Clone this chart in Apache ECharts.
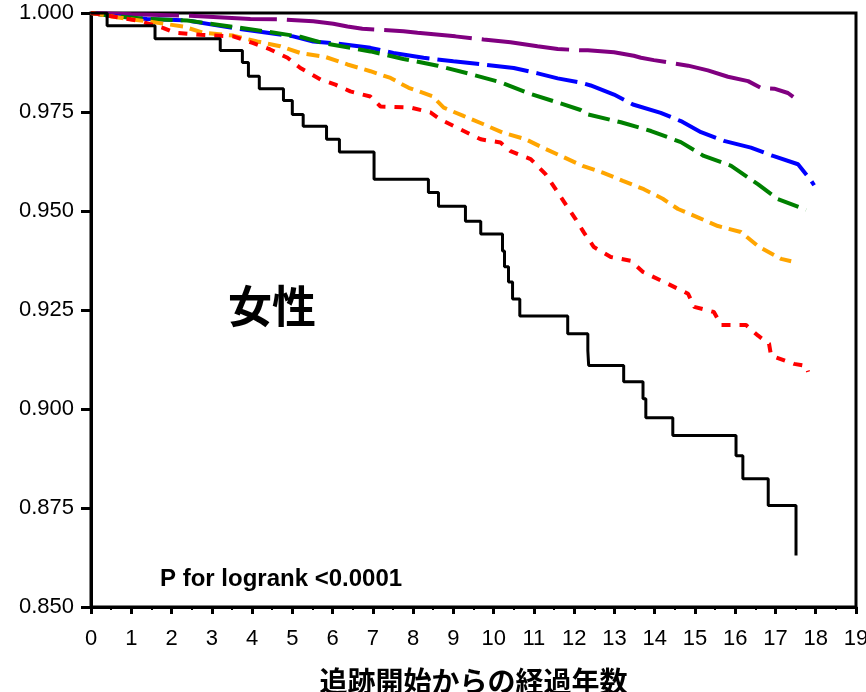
<!DOCTYPE html>
<html>
<head>
<meta charset="utf-8">
<script src="https://cdn.jsdelivr.net/npm/echarts@6/dist/echarts.min.js"></script>
<style>
html,body{margin:0;padding:0;background:#fff;}
#chart{width:866px;height:692px;}
</style>
</head>
<body>
<div id="chart"></div>
<script>
// X axis ticks (years since start of follow-up)
var xTicks = [0,1,2,3,4,5,6,7,8,9,10,11,12,13,14,15,16,17,18,19];
// Y axis tick labels
var yTicks = [0.850,0.875,0.900,0.925,0.950,0.975,1.000];

// Survival curves: [time (years), survival]
var purpleCurve = [[0,1.0],[1.0,0.9997],[2.46,0.9993],[3.96,0.9985],[4.7,0.9984],[5.52,0.9979],[6.02,0.9973],[6.37,0.9966],[6.74,0.9960],[7.76,0.9954],[8.11,0.9950],[9.05,0.9941],[9.75,0.9933],[10.42,0.9926],[11.09,0.9916],[11.59,0.9909],[12.16,0.9906],[12.34,0.9906],[12.99,0.9901],[13.48,0.9892],[13.66,0.9887],[13.98,0.9881],[14.83,0.9867],[15.32,0.9855],[15.82,0.9839],[16.32,0.9828],[16.64,0.9811],[16.97,0.9809],[17.31,0.9798],[17.44,0.9788]];
var blueCurve = [[0,1.0],[0.47,0.9993],[1.39,0.9985],[2.39,0.9981],[3.53,0.9962],[4.38,0.9950],[5.02,0.9941],[5.52,0.9928],[6.12,0.9923],[6.94,0.9912],[7.51,0.9899],[8.26,0.9887],[9.0,0.9878],[9.75,0.9870],[10.5,0.9861],[11.12,0.9847],[11.59,0.9835],[12.16,0.9824],[12.41,0.9817],[12.99,0.9794],[13.46,0.9769],[14.15,0.9748],[14.65,0.9727],[15.15,0.9699],[15.72,0.9677],[16.39,0.9660],[16.94,0.9639],[17.56,0.9618],[17.89,0.9576],[17.96,0.9565]];
var greenCurve = [[0,1.0],[0.47,0.9993],[1.39,0.9985],[2.39,0.9981],[3.53,0.9965],[4.38,0.9953],[5.2,0.9940],[5.77,0.9924],[6.94,0.9903],[7.76,0.9884],[8.61,0.9867],[9.38,0.9847],[10.17,0.9825],[10.85,0.9798],[11.62,0.9773],[12.16,0.9755],[12.34,0.9744],[13.16,0.9724],[13.91,0.9702],[14.65,0.9674],[15.22,0.9639],[15.9,0.9614],[16.57,0.9567],[17.06,0.9530],[17.76,0.9503]];
var orangeCurve = [[0,1.0],[0.9,0.9985],[1.39,0.9979],[2.29,0.9966],[2.79,0.9950],[3.53,0.9943],[4.13,0.9928],[4.7,0.9916],[5.2,0.9899],[5.82,0.9889],[6.37,0.9870],[6.94,0.9853],[7.44,0.9836],[7.89,0.9811],[8.48,0.9790],[8.76,0.9761],[9.25,0.9740],[9.75,0.9719],[10.22,0.9698],[10.8,0.9681],[11.22,0.9660],[11.67,0.9639],[12.21,0.9614],[12.71,0.9597],[13.21,0.9576],[13.73,0.9555],[14.2,0.9531],[14.58,0.9505],[15.07,0.9484],[15.57,0.9462],[16.14,0.9447],[16.57,0.9411],[17.14,0.9379],[17.39,0.9373]];
var redCurve = [[0,1.0],[0.5,0.9992],[1.2,0.9980],[1.8,0.9962],[2.09,0.9950],[2.71,0.9945],[3.53,0.9941],[4.03,0.9924],[4.45,0.9908],[4.88,0.9887],[5.2,0.9861],[5.7,0.9832],[6.07,0.9819],[6.44,0.9802],[6.94,0.9789],[7.19,0.9764],[7.94,0.9761],[8.43,0.9749],[8.68,0.9731],[9.18,0.9706],[9.68,0.9681],[10.17,0.9673],[10.42,0.9651],[10.92,0.9631],[11.29,0.9593],[11.54,0.9555],[11.79,0.9517],[12.04,0.9479],[12.24,0.9446],[12.49,0.9409],[12.91,0.9384],[13.41,0.9374],[13.71,0.9346],[14.33,0.9316],[14.83,0.9291],[14.98,0.9258],[15.47,0.9245],[15.65,0.9212],[16.27,0.9212],[16.57,0.9185],[16.84,0.9165],[16.89,0.9135],[17.46,0.9114],[17.76,0.9109],[17.81,0.9094]];
// Black curve: step points [event time, survival after event]
var blackCurve = [[0,1.0],[0.40,0.9968],[1.59,0.9935],[3.21,0.9905],[3.76,0.9875],[3.91,0.9840],[4.18,0.9809],[4.78,0.9779],[5.00,0.9744],[5.27,0.9714],[5.85,0.9681],[6.17,0.9649],[7.03,0.9580],[8.38,0.9547],[8.63,0.9512],[9.30,0.9474],[9.68,0.9442],[10.22,0.9399],[10.27,0.9359],[10.37,0.9321],[10.47,0.9278],[10.65,0.9235],[11.84,0.9190],[12.34,0.9147],[12.36,0.9110],[13.23,0.9069],[13.71,0.9026],[13.78,0.8978],[14.45,0.8933],[16.02,0.8882],[16.19,0.8824],[16.82,0.8756],[17.51,0.8630]];

var panelLabel = '女性';
var pText = 'P for logrank <0.0001';
var xName = '追跡開始からの経過年数';

var chart = echarts.init(document.getElementById('chart'), null, {renderer:'canvas'});
var labelFont = '"Liberation Sans", Arial, sans-serif';
var cjkFont = '"Noto Sans CJK JP", "Noto Sans CJK SC", sans-serif';

function dashed(name, data, color, dash, width) {
  return {
    name: name, type: 'line', data: data, showSymbol: false, symbol: 'none',
    lineStyle: {color: color, width: width, type: dash, cap: 'butt'},
    silent: true, animation: false, z: 3
  };
}

chart.setOption({
  animation: false,
  backgroundColor: '#fff',
  grid: {left: 91, right: 10, top: 13, bottom: 85, containLabel: false, outerBoundsMode: 'none',
         show: true, borderColor: '#000', borderWidth: 3, backgroundColor: 'transparent'},
  xAxis: {
    type: 'value', min: xTicks[0], max: xTicks[xTicks.length-1], interval: 1,
    axisLine: {show: true, onZero: false, lineStyle: {color: '#000', width: 3}},
    axisTick: {show: true, length: 7, lineStyle: {color: '#000', width: 3}},
    minorTick: {show: true, splitNumber: 2, length: 3, lineStyle: {color: '#000', width: 2}},
    splitLine: {show: false},
    axisLabel: {color: '#000', fontSize: 22, fontFamily: labelFont, margin: 21},
    name: xName, nameLocation: 'middle', nameGap: 60,
    nameTextStyle: {color: '#000', fontSize: 28, fontWeight: 'bold', fontFamily: cjkFont}
  },
  yAxis: {
    type: 'value', min: yTicks[0], max: yTicks[yTicks.length-1], interval: 0.025,
    axisLine: {show: true, onZero: false, lineStyle: {color: '#000', width: 3}},
    axisTick: {show: true, length: 10, lineStyle: {color: '#000', width: 3}},
    splitLine: {show: false},
    axisLabel: {color: '#000', fontSize: 22, fontFamily: labelFont, margin: 17,
      formatter: function(v){ return v.toFixed(3); }}
  },
  graphic: [
    {type: 'text', left: 228, top: 284, style: {text: panelLabel, fill: '#000', font: 'bold 44px ' + cjkFont}},
    {type: 'text', left: 160, top: 567, style: {text: pText, fill: '#000', font: 'bold 24px ' + labelFont}}
  ],
  series: [
    dashed('purple', purpleCurve, '#800080', [88,10], 4),
    dashed('blue', blueCurve, '#0000ff', [42,8], 4),
    dashed('green', greenCurve, '#008000', [22,8], 4),
    dashed('orange', orangeCurve, '#ffa500', [13,7], 4),
    dashed('red', redCurve, '#ff0000', [9,9], 4),
    {name: 'black', type: 'line', step: 'end', data: blackCurve, showSymbol: false, symbol: 'none',
     lineStyle: {color: '#000', width: 3}, silent: true, z: 4}
  ]
});
</script>
</body>
</html>
